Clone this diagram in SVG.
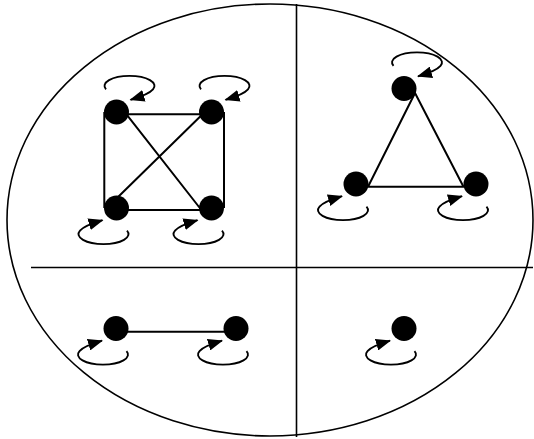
<svg xmlns="http://www.w3.org/2000/svg" xmlns:xlink="http://www.w3.org/1999/xlink" width="534" height="439" viewBox="0 0 534 439">
  <style>
    .frame { fill: none; stroke: #000; stroke-width: 1.6; }
    .edge { fill: none; stroke: #000; stroke-width: 2; }
    .loop { fill: none; stroke: #000; stroke-width: 1.9; }
    .node { fill: #000; }
  </style>
  <defs>
    <marker id="arrow" viewBox="0 0 15 12" markerWidth="15" markerHeight="12" refX="14" refY="6" orient="auto" markerUnits="userSpaceOnUse">
      <path d="M0,0 L15,6 L0,12 z" fill="#000"/>
    </marker>
    <path id="loop" class="loop" d="M 10.5 22.7 A 25 10 0 1 1 -36.5 22.7 Q -32 17.5 -14 12.2" marker-end="url(#arrow)"/>
  </defs>
  <rect width="534" height="439" fill="#fff"/>
  <ellipse class="frame" cx="270" cy="220" rx="263" ry="216"/>
  <line class="frame" x1="296.5" y1="4" x2="296.5" y2="437"/>
  <line class="frame" x1="31" y1="267.5" x2="533" y2="267.5"/>
  <g id="connectors">
    <path class="edge" d="M116.5 114.3 L211.5 114.3 M104.3 112 L104.3 208 M224 112 L224 208 M116.5 210 L211.5 210"/>
    <path class="edge" d="M126.5 114.4 L201 209.5 M202.5 114.2 L116 199"/>
    <path class="edge" d="M415 93 L463.5 186.7 L368 186.7 Z"/>
    <path class="edge" d="M116 331.7 L236 331.7"/>
  </g>
  <g id="k4-a"><use xlink:href="#loop" href="#loop" transform="translate(116.5,112) rotate(180)"/><circle class="node" cx="116.5" cy="112" r="12.5"/></g>
  <g id="k4-b"><use xlink:href="#loop" href="#loop" transform="translate(211.5,112) rotate(180)"/><circle class="node" cx="211.5" cy="112" r="12.5"/></g>
  <g id="k4-c"><use xlink:href="#loop" href="#loop" transform="translate(116.5,208)"/><circle class="node" cx="116.5" cy="208" r="12.5"/></g>
  <g id="k4-d"><use xlink:href="#loop" href="#loop" transform="translate(211.5,208)"/><circle class="node" cx="211.5" cy="208" r="12.5"/></g>
  <g id="tri-top"><use xlink:href="#loop" href="#loop" transform="translate(404,88.5) rotate(180)"/><circle class="node" cx="404" cy="88.5" r="12.5"/></g>
  <g id="tri-left"><use xlink:href="#loop" href="#loop" transform="translate(356,184)"/><circle class="node" cx="356" cy="184" r="12.5"/></g>
  <g id="tri-right"><use xlink:href="#loop" href="#loop" transform="translate(476,184)"/><circle class="node" cx="476" cy="184" r="12.5"/></g>
  <g id="pair-left"><use xlink:href="#loop" href="#loop" transform="translate(116,328.5)"/><circle class="node" cx="116" cy="328.5" r="12.5"/></g>
  <g id="pair-right"><use xlink:href="#loop" href="#loop" transform="translate(236,328.5)"/><circle class="node" cx="236" cy="328.5" r="12.5"/></g>
  <g id="single"><use xlink:href="#loop" href="#loop" transform="translate(404,328.5)"/><circle class="node" cx="404" cy="328.5" r="12.5"/></g>
</svg>
